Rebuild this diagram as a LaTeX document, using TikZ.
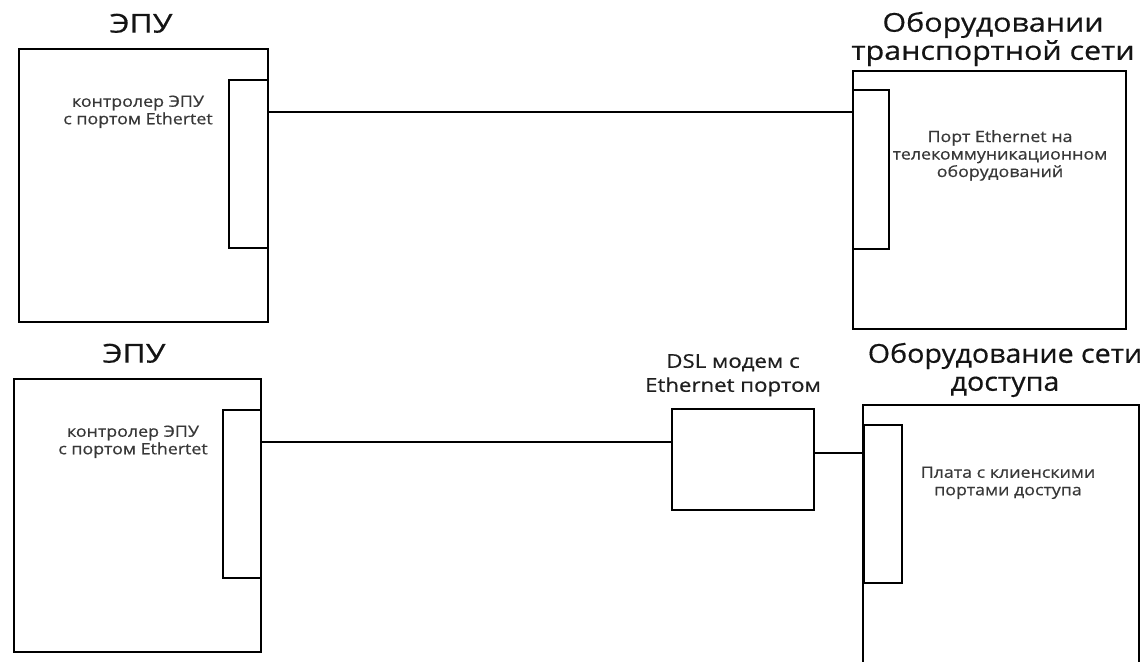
\documentclass[tikz,border=0pt]{standalone}
\usepackage{fontspec}
\setmainfont{Open Sans}
\newfontfamily\semifont[FakeBold=0.5]{Open Sans}
\newcommand{\widetext}[2][1.15]{\scalebox{#1}[1]{\begin{tabular}{@{}c@{}}#2\end{tabular}}}
\begin{document}
\begin{tikzpicture}[x=1pt,y=-1pt,
  box/.style={draw, line width=1.7pt, rectangle, inner sep=0pt, anchor=north west},
  lbl/.style={font=\semifont\fontsize{15.5}{17.5}\selectfont, inner sep=0pt, text=black!78},
  ttl/.style={font=\semifont\fontsize{26}{28}\selectfont, inner sep=0pt, text=black!92},
  dsllbl/.style={font=\semifont\fontsize{19}{24}\selectfont, inner sep=0pt, text=black!88},
  wire/.style={line width=1.7pt}]
\useasboundingbox[fill=white] (0,0) rectangle (1145,661);
% top row
\node[box, minimum width=249pt, minimum height=273pt] (box1) at (18,48) {};
\node[box, fill=white, minimum width=39pt, minimum height=168pt] (port1) at (228,79) {};
\node[box, minimum width=273pt, minimum height=258pt] (box2) at (852,70) {};
\node[box, fill=white, minimum width=36pt, minimum height=159pt] (port2) at (852,89) {};
\coordinate (w1) at (0,112);
\draw[wire] (port1.east |- w1) -- (port2.west |- w1);
\node[ttl] (t1) at (141,27) {\widetext[1.22]{ЭПУ}};
\node[ttl] (t2) at (993,40) {\widetext[1.17]{Оборудовании\\транспортной сети}};
\node[lbl] (l1) at (138,112) {\widetext{контролер ЭПУ\\с портом Ethertet}};
\node[lbl] (l2) at (1000,156) {\widetext{Порт Ethernet на\\телекоммуникационном\\оборудований}};
% bottom row
\node[box, minimum width=247pt, minimum height=273pt] (box3) at (13,378) {};
\node[box, fill=white, minimum width=38pt, minimum height=168pt] (port3) at (222,409) {};
\node[box, minimum width=142pt, minimum height=101pt] (dsl) at (671,408) {};
\coordinate (b4bl) at (863,668);
\coordinate (b4tl) at (863,405);
\coordinate (b4tr) at (1139,405);
\coordinate (b4br) at (1139,668);
\draw[line width=1.7pt] (b4bl) -- (b4tl) -- (b4tr) -- (b4br);
\node[box, fill=white, minimum width=38pt, minimum height=158pt] (port4) at (863,424) {};
\coordinate (w3) at (0,442);
\coordinate (w4) at (0,453);
\draw[wire] (port3.east |- w3) -- (dsl.west |- w3);
\draw[wire] (dsl.east |- w4) -- (port4.west |- w4);
\node[ttl] (t3) at (134,357) {\widetext[1.22]{ЭПУ}};
\node[ttl] (t4) at (1005,371) {\widetext[1.1]{Оборудование сети\\доступа}};
\node[dsllbl] (t5) at (733,375) {\widetext[1.17]{DSL модем с\\Ethernet портом}};
\node[lbl] (l3) at (133,442) {\widetext{контролер ЭПУ\\с портом Ethertet}};
\node[lbl] (l4) at (1008,483) {\widetext{Плата с клиенскими\\портами доступа}};
\end{tikzpicture}
\end{document}
